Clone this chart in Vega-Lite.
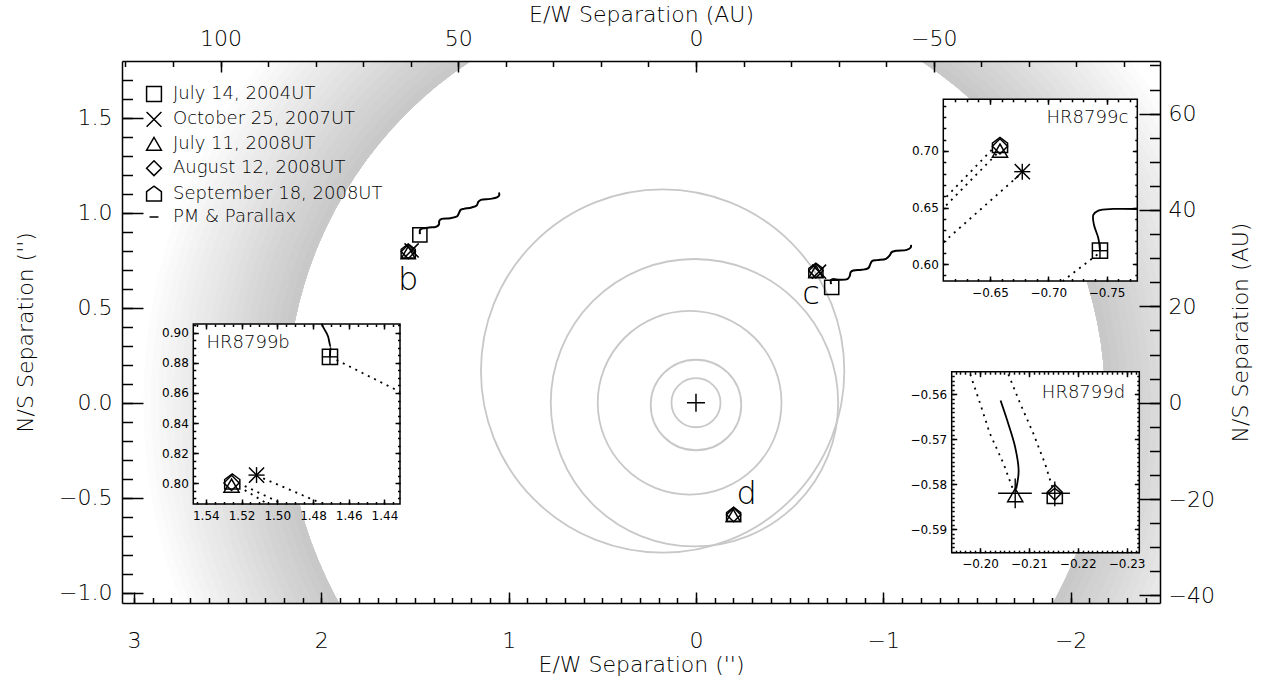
{
  "$schema": "https://vega.github.io/schema/vega-lite/v6.json",
  "width": 1038,
  "height": 542,
  "autosize": {"type": "none"},
  "padding": {"left": 122, "top": 61, "right": 105, "bottom": 78},
  "background": "white",
  "config": {
    "view": {"stroke": null},
    "axis": {
      "labelFont": "DejaVu Sans", "titleFont": "DejaVu Sans", "labelColor": "black", "titleColor": "black",
      "tickColor": "black", "domainColor": "black", "tickWidth": 1.5, "domainWidth": 1.5,
      "grid": false, "labelFlush": false, "labelOverlap": false, "titleFontWeight": 200, "labelFontWeight": 200,
      "labelFontSize": 22, "titleFontSize": 22, "zindex": 2
    },
    "text": {"font": "DejaVu Sans", "color": "black", "fontWeight": 200}
  },
  "datasets": {
    "rings": [
      {"cx": 0, "cy": 0, "rin": 2.17, "rout": 2.97}, {"cx": 0, "cy": 0, "rin": 2.17, "rout": 2.93},
      {"cx": 0, "cy": 0, "rin": 2.17, "rout": 2.89}, {"cx": 0, "cy": 0, "rin": 2.17, "rout": 2.85},
      {"cx": 0, "cy": 0, "rin": 2.17, "rout": 2.81}, {"cx": 0, "cy": 0, "rin": 2.17, "rout": 2.77},
      {"cx": 0, "cy": 0, "rin": 2.17, "rout": 2.73}, {"cx": 0, "cy": 0, "rin": 2.17, "rout": 2.69},
      {"cx": 0, "cy": 0, "rin": 2.17, "rout": 2.65}, {"cx": 0, "cy": 0, "rin": 2.17, "rout": 2.61},
      {"cx": 0, "cy": 0, "rin": 2.17, "rout": 2.57}, {"cx": 0, "cy": 0, "rin": 2.17, "rout": 2.53},
      {"cx": 0, "cy": 0, "rin": 2.17, "rout": 2.49}, {"cx": 0, "cy": 0, "rin": 2.17, "rout": 2.45},
      {"cx": 0, "cy": 0, "rin": 2.17, "rout": 2.41}, {"cx": 0, "cy": 0, "rin": 2.17, "rout": 2.37},
      {"cx": 0, "cy": 0, "rin": 2.17, "rout": 2.33}, {"cx": 0, "cy": 0, "rin": 2.17, "rout": 2.29},
      {"cx": 0, "cy": 0, "rin": 2.17, "rout": 2.25}, {"cx": 0, "cy": 0, "rin": 2.17, "rout": 2.21}
    ],
    "orbits": [
      {"cx": 0, "cy": 0, "r": 0.13},
      {"cx": 0, "cy": -0.012, "r": 0.24},
      {"cx": 0.034, "cy": 0, "r": 0.487},
      {"cx": 0.008, "cy": 0, "r": 0.762},
      {"cx": 0.178, "cy": 0.167, "r": 0.963}
    ],
    "waves": [
      {"id": "b", "k": 0, "x": 1.4736, "y": 0.8879}, {"id": "b", "k": 1, "x": 1.4736, "y": 0.9089},
      {"id": "b", "k": 2, "x": 1.4665, "y": 0.9158}, {"id": "b", "k": 3, "x": 1.4469, "y": 0.9195},
      {"id": "b", "k": 4, "x": 1.4238, "y": 0.9232}, {"id": "b", "k": 5, "x": 1.3881, "y": 0.9263},
      {"id": "b", "k": 6, "x": 1.3721, "y": 0.9389}, {"id": "b", "k": 7, "x": 1.3704, "y": 0.9579},
      {"id": "b", "k": 8, "x": 1.3579, "y": 0.9684}, {"id": "b", "k": 9, "x": 1.3134, "y": 0.9721},
      {"id": "b", "k": 10, "x": 1.2744, "y": 0.9826}, {"id": "b", "k": 11, "x": 1.2638, "y": 1.0021},
      {"id": "b", "k": 12, "x": 1.2563, "y": 1.0158}, {"id": "b", "k": 13, "x": 1.2387, "y": 1.0211},
      {"id": "b", "k": 14, "x": 1.1976, "y": 1.0284}, {"id": "b", "k": 15, "x": 1.1693, "y": 1.0405},
      {"id": "b", "k": 16, "x": 1.1622, "y": 1.0579}, {"id": "b", "k": 17, "x": 1.1479, "y": 1.0684},
      {"id": "b", "k": 18, "x": 1.0998, "y": 1.0737}, {"id": "b", "k": 19, "x": 1.0625, "y": 1.0811},
      {"id": "b", "k": 20, "x": 1.0501, "y": 1.0932}, {"id": "b", "k": 21, "x": 1.0518, "y": 1.1074},
      {"id": "c", "k": 0, "x": -0.7208, "y": 0.6247}, {"id": "c", "k": 1, "x": -0.7208, "y": 0.6458},
      {"id": "c", "k": 2, "x": -0.7298, "y": 0.6511}, {"id": "c", "k": 3, "x": -0.7688, "y": 0.6474},
      {"id": "c", "k": 4, "x": -0.8078, "y": 0.6511}, {"id": "c", "k": 5, "x": -0.8206, "y": 0.6668},
      {"id": "c", "k": 6, "x": -0.826, "y": 0.6879}, {"id": "c", "k": 7, "x": -0.8398, "y": 0.6968},
      {"id": "c", "k": 8, "x": -0.8847, "y": 0.7}, {"id": "c", "k": 9, "x": -0.9199, "y": 0.7089},
      {"id": "c", "k": 10, "x": -0.9306, "y": 0.73}, {"id": "c", "k": 11, "x": -0.9397, "y": 0.7458},
      {"id": "c", "k": 12, "x": -0.968, "y": 0.7511}, {"id": "c", "k": 13, "x": -1.0144, "y": 0.7579},
      {"id": "c", "k": 14, "x": -1.0342, "y": 0.7758}, {"id": "c", "k": 15, "x": -1.0449, "y": 0.7932},
      {"id": "c", "k": 16, "x": -1.0678, "y": 0.8}, {"id": "c", "k": 17, "x": -1.1249, "y": 0.8053},
      {"id": "c", "k": 18, "x": -1.1463, "y": 0.8179}, {"id": "c", "k": 19, "x": -1.1479, "y": 0.8316}
    ],
    "mainpts": [
      {"x": 1.474, "y": 0.884, "epoch": "July 14, 2004UT"},
      {"x": 1.518, "y": 0.802, "epoch": "October 25, 2007UT"},
      {"x": 1.536, "y": 0.791, "epoch": "July 11, 2008UT"},
      {"x": 1.536, "y": 0.796, "epoch": "August 12, 2008UT"},
      {"x": 1.536, "y": 0.799, "epoch": "September 18, 2008UT"},
      {"x": -0.7245, "y": 0.6074, "epoch": "July 14, 2004UT"},
      {"x": -0.657, "y": 0.69, "epoch": "October 25, 2007UT"},
      {"x": -0.64, "y": 0.69, "epoch": "July 11, 2008UT"},
      {"x": -0.64, "y": 0.695, "epoch": "August 12, 2008UT"},
      {"x": -0.64, "y": 0.698, "epoch": "September 18, 2008UT"},
      {"x": -0.199, "y": -0.594, "epoch": "July 11, 2008UT"},
      {"x": -0.201, "y": -0.59, "epoch": "August 12, 2008UT"},
      {"x": -0.201, "y": -0.588, "epoch": "September 18, 2008UT"}
    ],
    "planetlabels": [
      {"x": 1.536, "y": 0.593, "t": "b"},
      {"x": -0.614, "y": 0.5195, "t": "c"},
      {"x": -0.2707, "y": -0.533, "t": "d"}
    ],
    "b_box": [{"x": 1.547, "x2": 1.4313, "y": 0.7863, "y2": 0.9058}],
    "b_dots": [
      {"id": 1, "k": 0, "x": 1.4668, "y": 0.8819}, {"id": 1, "k": 1, "x": 1.4313, "y": 0.8608},
      {"id": 2, "k": 0, "x": 1.5079, "y": 0.8033}, {"id": 2, "k": 1, "x": 1.4752, "y": 0.7867},
      {"id": 3, "k": 0, "x": 1.5182, "y": 0.7982}, {"id": 3, "k": 1, "x": 1.4969, "y": 0.7863},
      {"id": 4, "k": 0, "x": 1.5182, "y": 0.7955}, {"id": 4, "k": 1, "x": 1.5053, "y": 0.7863}
    ],
    "b_curve": [
      {"k": 0, "x": 1.4705, "y": 0.884}, {"k": 1, "x": 1.4701, "y": 0.8907},
      {"k": 2, "x": 1.4715, "y": 0.8973}, {"k": 3, "x": 1.4739, "y": 0.9029},
      {"k": 4, "x": 1.4752, "y": 0.9058}
    ],
    "b_pts": [
      {"x": 1.4705, "y": 0.884, "epoch": "July 14, 2004UT"},
      {"x": 1.5116, "y": 0.8055, "epoch": "October 25, 2007UT"},
      {"x": 1.5256, "y": 0.7985, "epoch": "July 11, 2008UT"},
      {"x": 1.5256, "y": 0.8003, "epoch": "August 12, 2008UT"},
      {"x": 1.5252, "y": 0.8013, "epoch": "September 18, 2008UT"}
    ],
    "b_err": [
      {"x1": 1.475, "x2": 1.466, "y1": 0.884, "y2": 0.884},
      {"x1": 1.4705, "x2": 1.4705, "y1": 0.8787, "y2": 0.8893},
      {"x1": 1.5161, "x2": 1.5071, "y1": 0.8055, "y2": 0.8055},
      {"x1": 1.5116, "x2": 1.5116, "y1": 0.8002, "y2": 0.8108}
    ],
    "c_box": [{"x": -0.61, "x2": -0.7763, "y": 0.585, "y2": 0.7457}],
    "c_dots": [
      {"id": 1, "k": 0, "x": -0.7421, "y": 0.6084}, {"id": 1, "k": 1, "x": -0.7124, "y": 0.585},
      {"id": 2, "k": 0, "x": -0.6743, "y": 0.6779}, {"id": 2, "k": 1, "x": -0.61, "y": 0.6191},
      {"id": 3, "k": 0, "x": -0.6515, "y": 0.7009}, {"id": 3, "k": 1, "x": -0.61, "y": 0.6566},
      {"id": 4, "k": 0, "x": -0.6557, "y": 0.6973}, {"id": 4, "k": 1, "x": -0.61, "y": 0.6493}
    ],
    "c_curve": [
      {"k": 0, "x": -0.7443, "y": 0.6118}, {"k": 1, "x": -0.7429, "y": 0.6228},
      {"k": 2, "x": -0.7392, "y": 0.6345}, {"k": 3, "x": -0.7386, "y": 0.6434},
      {"k": 4, "x": -0.7429, "y": 0.6472}, {"k": 5, "x": -0.7558, "y": 0.6487},
      {"k": 6, "x": -0.7763, "y": 0.6487}
    ],
    "c_pts": [
      {"x": -0.7443, "y": 0.6118, "epoch": "July 14, 2004UT"},
      {"x": -0.6777, "y": 0.6817, "epoch": "October 25, 2007UT"},
      {"x": -0.6586, "y": 0.7003, "epoch": "July 11, 2008UT"},
      {"x": -0.6586, "y": 0.7041, "epoch": "August 12, 2008UT"},
      {"x": -0.6586, "y": 0.7053, "epoch": "September 18, 2008UT"}
    ],
    "c_err": [
      {"x1": -0.7374, "x2": -0.7512, "y1": 0.6118, "y2": 0.6118},
      {"x1": -0.7443, "x2": -0.7443, "y1": 0.6047, "y2": 0.6189},
      {"x1": -0.6708, "x2": -0.6846, "y1": 0.6817, "y2": 0.6817},
      {"x1": -0.6777, "x2": -0.6777, "y1": 0.6746, "y2": 0.6888}
    ],
    "d_box": [{"x": -0.1942, "x2": -0.2326, "y": -0.5952, "y2": -0.555}],
    "d_dots": [
      {"id": 1, "k": 0, "x": -0.198, "y": -0.5556}, {"id": 1, "k": 1, "x": -0.2, "y": -0.562},
      {"id": 1, "k": 2, "x": -0.202, "y": -0.5687}, {"id": 1, "k": 3, "x": -0.2048, "y": -0.5754},
      {"id": 1, "k": 4, "x": -0.2067, "y": -0.581},
      {"id": 2, "k": 0, "x": -0.2058, "y": -0.5556}, {"id": 2, "k": 1, "x": -0.2082, "y": -0.562},
      {"id": 2, "k": 2, "x": -0.2109, "y": -0.5687}, {"id": 2, "k": 3, "x": -0.2133, "y": -0.5754},
      {"id": 2, "k": 4, "x": -0.2149, "y": -0.581}
    ],
    "d_curve": [
      {"k": 0, "x": -0.2074, "y": -0.581}, {"k": 1, "x": -0.2079, "y": -0.577},
      {"k": 2, "x": -0.2072, "y": -0.5718}, {"k": 3, "x": -0.2058, "y": -0.5666},
      {"k": 4, "x": -0.2042, "y": -0.5614}
    ],
    "d_pts": [
      {"x": -0.2072, "y": -0.5824, "epoch": "July 11, 2008UT"},
      {"x": -0.2153, "y": -0.5818, "epoch": "August 12, 2008UT"},
      {"x": -0.2153, "y": -0.5826, "epoch": "September 18, 2008UT"}
    ],
    "d_err": [
      {"x1": -0.2037, "x2": -0.2106, "y1": -0.582, "y2": -0.582},
      {"x1": -0.2072, "x2": -0.2072, "y1": -0.5787, "y2": -0.5853},
      {"x1": -0.2126, "x2": -0.2184, "y1": -0.582, "y2": -0.582},
      {"x1": -0.2153, "x2": -0.2153, "y1": -0.5794, "y2": -0.5849}
    ]
  },
  "layer": [
    {
      "layer": [
        {
          "data": {"name": "rings"},
          "mark": {"type": "arc", "clip": true, "theta": 0, "theta2": 6.2832},
          "encoding": {
            "x": {"field": "cx", "type": "quantitative", "scale": {"domain": [3.064, -2.477], "nice": false, "zero": false},
              "axis": {"zindex": 2, "orient": "bottom", "values": [3, 2, 1, 0, -1, -2], "format": "d", "tickSize": -11, "labelPadding": 38,
                "title": "E/W Separation ('')", "titleY": 61, "titleBaseline": "middle"}},
            "y": {"field": "cy", "type": "quantitative", "scale": {"domain": [-1.055, 1.8], "nice": false, "zero": false},
              "axis": {"zindex": 2, "orient": "left", "values": [-1, -0.5, 0, 0.5, 1, 1.5], "format": ".1f", "tickSize": -21, "labelPadding": 31,
                "title": "N/S Separation ('')", "titleX": -97, "titleAngle": 270, "titleBaseline": "middle"}},
            "radius": {"field": "rout", "type": "quantitative", "scale": {"domain": [0, 3], "range": [0, 565.8], "zero": true, "nice": false}, "stack": null},
            "radius2": {"field": "rin"},
            "color": {"field": "rout", "type": "quantitative", "scale": {"domain": [2.21, 2.97], "range": ["#c8c8c8", "#ffffff"]}, "legend": null}
          }
        },
        {
          "data": {"name": "orbits"},
          "mark": {"type": "arc", "clip": true, "theta": 0, "theta2": 6.2832, "filled": false, "stroke": "#c8c8c8", "strokeWidth": 1.8},
          "encoding": {
            "x": {"field": "cx", "type": "quantitative", "scale": {"domain": [3.064, -2.477], "nice": false, "zero": false},
              "axis": {"zindex": 2, "orient": "bottom", "values": [-2.4, -2.3, -2.2, -2.1, -2, -1.9, -1.8, -1.7, -1.6, -1.5, -1.4, -1.3, -1.2, -1.1, -1, -0.9, -0.8, -0.7, -0.6, -0.5, -0.4, -0.3, -0.2, -0.1, 0, 0.1, 0.2, 0.3, 0.4, 0.5, 0.6, 0.7, 0.8, 0.9, 1, 1.1, 1.2, 1.3, 1.4, 1.5, 1.6, 1.7, 1.8, 1.9, 2, 2.1, 2.2, 2.3, 2.4, 2.5, 2.6, 2.7, 2.8, 2.9, 3],
                "tickSize": -5.5, "labels": false, "domain": false, "title": null}},
            "y": {"field": "cy", "type": "quantitative", "scale": {"domain": [-1.055, 1.8], "nice": false, "zero": false},
              "axis": {"zindex": 2, "orient": "left", "values": [-1, -0.9, -0.8, -0.7, -0.6, -0.5, -0.4, -0.3, -0.2, -0.1, 0, 0.1, 0.2, 0.3, 0.4, 0.5, 0.6, 0.7, 0.8, 0.9, 1, 1.1, 1.2, 1.3, 1.4, 1.5, 1.6, 1.7],
                "tickSize": -10.5, "labels": false, "domain": false, "title": null}},
            "radius": {"field": "r", "type": "quantitative", "scale": {"domain": [0, 3], "range": [0, 565.8], "zero": true, "nice": false}, "stack": null}
          }
        },
        {
          "data": {"name": "waves"},
          "mark": {"type": "line", "color": "black", "strokeWidth": 2, "interpolate": "catmull-rom"},
          "encoding": {
            "x": {"field": "x", "type": "quantitative", "scale": {"domain": [3.064, -2.477], "nice": false, "zero": false},
              "axis": {"zindex": 2, "orient": "top", "values": [2.538071, 1.269036, 0, -1.269036], "labelExpr": "format(datum.value * 39.4, 'd')",
                "tickSize": -11, "labelPadding": 22, "title": "E/W Separation (AU)", "titleY": -47, "titleBaseline": "middle"}},
            "y": {"field": "y", "type": "quantitative", "scale": {"domain": [-1.055, 1.8], "nice": false, "zero": false},
              "axis": {"zindex": 2, "orient": "right", "values": [1.522843, 1.015228, 0.507614, 0, -0.507614, -1.015228], "labelExpr": "format(datum.value * 39.4, 'd')",
                "tickSize": -21, "labelPadding": 29, "title": "N/S Separation (AU)", "titleX": 80, "titleAngle": 270, "titleBaseline": "middle"}},
            "detail": {"field": "id"},
            "order": {"field": "k", "type": "quantitative"}
          }
        },
        {
          "data": {"name": "mainpts"},
          "mark": {"type": "point", "filled": false, "color": "black", "strokeWidth": 1.5, "size": 200, "opacity": 1},
          "encoding": {
            "x": {"field": "x", "type": "quantitative", "scale": {"domain": [3.064, -2.477], "nice": false, "zero": false},
              "axis": {"zindex": 2, "orient": "top", "values": [-2.284264, -2.030457, -1.77665, -1.522843, -1.269036, -1.015228, -0.761421, -0.507614, -0.253807, 0, 0.253807, 0.507614, 0.761421, 1.015228, 1.269036, 1.522843, 1.77665, 2.030457, 2.284264, 2.538071, 2.791878, 3.045685],
                "tickSize": -5.5, "labels": false, "domain": false, "title": null}},
            "y": {"field": "y", "type": "quantitative", "scale": {"domain": [-1.055, 1.8], "nice": false, "zero": false},
              "axis": {"zindex": 2, "orient": "right", "values": [-1.015228, -0.888325, -0.761421, -0.634518, -0.507614, -0.380711, -0.253807, -0.126904, 0, 0.126904, 0.253807, 0.380711, 0.507614, 0.634518, 0.761421, 0.888325, 1.015228, 1.142132, 1.269036, 1.395939, 1.522843, 1.649746, 1.77665],
                "tickSize": -10.5, "labels": false, "domain": false, "title": null}},
            "shape": {"field": "epoch", "type": "nominal",
              "scale": {"domain": ["July 14, 2004UT", "October 25, 2007UT", "July 11, 2008UT", "August 12, 2008UT", "September 18, 2008UT", "PM & Parallax"],
                "range": ["square", "M-1,-1L1,1M-1,1L1,-1", "triangle-up", "diamond", "M-1,1L1,1L1,-0.25L0,-1L-1,-0.25Z", "M-0.6,0L0.6,0"]},
              "legend": {"title": null, "orient": "none", "legendX": 23, "legendY": 24, "padding": 0, "zindex": 2,
                "labelFont": "DejaVu Sans", "labelFontSize": 18, "labelFontWeight": 200, "labelColor": "black", "labelLimit": 400, "labelOffset": 10,
                "symbolSize": 220, "symbolStrokeWidth": 1.5, "symbolStrokeColor": "black", "symbolFillColor": "transparent",
                "rowPadding": 3.4}}
          }
        },
        {
          "data": {"values": [{"x": 0, "y": 0}]},
          "mark": {"type": "point", "shape": "M-1,0L1,0M0,-1L0,1", "size": 324, "filled": false, "color": "black", "strokeWidth": 1.5, "opacity": 1},
          "encoding": {
            "x": {"field": "x", "type": "quantitative", "scale": {"domain": [3.064, -2.477], "nice": false, "zero": false}, "axis": null},
            "y": {"field": "y", "type": "quantitative", "scale": {"domain": [-1.055, 1.8], "nice": false, "zero": false}, "axis": null}
          }
        },
        {
          "data": {"name": "planetlabels"},
          "mark": {"type": "text", "fontSize": 32, "align": "center", "baseline": "alphabetic", "color": "black"},
          "encoding": {
            "x": {"field": "x", "type": "quantitative", "scale": {"domain": [3.064, -2.477], "nice": false, "zero": false}, "axis": null},
            "y": {"field": "y", "type": "quantitative", "scale": {"domain": [-1.055, 1.8], "nice": false, "zero": false}, "axis": null},
            "text": {"field": "t"}
          }
        }
      ],
      "resolve": {"axis": {"x": "independent", "y": "independent"}}
    },
    {
      "layer": [
        {
          "data": {"name": "b_box"},
          "mark": {"type": "rect", "fill": "white", "stroke": "black", "strokeWidth": 1.5},
          "encoding": {
            "x": {"field": "x", "type": "quantitative", "scale": {"domain": [1.547, 1.4313], "range": [71.3, 278], "nice": false, "zero": false},
              "axis": {"zindex": 2, "orient": "bottom", "offset": -99, "values": [1.54, 1.52, 1.5, 1.48, 1.46, 1.44], "format": ".2f", "tickSize": -5, "labelPadding": 11, "labelFontSize": 12, "labelFontWeight": "normal", "domain": false, "title": null}},
            "x2": {"field": "x2"},
            "y": {"field": "y", "type": "quantitative", "scale": {"domain": [0.7863, 0.9058], "range": [443, 263], "nice": false, "zero": false},
              "axis": {"zindex": 2, "orient": "left", "offset": -71.3, "values": [0.8, 0.82, 0.84, 0.86, 0.88, 0.9], "format": ".2f", "tickSize": -5, "labelPadding": 10, "labelFontSize": 12, "labelFontWeight": "normal", "domain": false, "title": null}},
            "y2": {"field": "y2"}
          }
        },
        {
          "data": {"name": "b_dots"},
          "mark": {"type": "line", "color": "black", "strokeWidth": 1.8, "strokeDash": [2, 5]},
          "encoding": {
            "x": {"field": "x", "type": "quantitative", "scale": {"domain": [1.547, 1.4313], "range": [71.3, 278], "nice": false, "zero": false},
              "axis": {"zindex": 2, "orient": "bottom", "offset": -99, "values": [1.435, 1.44, 1.445, 1.45, 1.455, 1.46, 1.465, 1.47, 1.475, 1.48, 1.485, 1.49, 1.495, 1.5, 1.505, 1.51, 1.515, 1.52, 1.525, 1.53, 1.535, 1.54, 1.545], "tickSize": -2.5, "labels": false, "domain": false, "title": null}},
            "y": {"field": "y", "type": "quantitative", "scale": {"domain": [0.7863, 0.9058], "range": [443, 263], "nice": false, "zero": false},
              "axis": {"zindex": 2, "orient": "left", "offset": -71.3, "values": [0.79, 0.795, 0.8, 0.805, 0.81, 0.815, 0.82, 0.825, 0.83, 0.835, 0.84, 0.845, 0.85, 0.855, 0.86, 0.865, 0.87, 0.875, 0.88, 0.885, 0.89, 0.895, 0.9, 0.905], "tickSize": -2.5, "labels": false, "domain": false, "title": null}},
            "detail": {"field": "id"},
            "order": {"field": "k", "type": "quantitative"}
          }
        },
        {
          "data": {"name": "b_curve"},
          "mark": {"type": "line", "color": "black", "strokeWidth": 1.8, "interpolate": "monotone"},
          "encoding": {
            "x": {"field": "x", "type": "quantitative", "scale": {"domain": [1.547, 1.4313], "range": [71.3, 278], "nice": false, "zero": false},
              "axis": {"zindex": 2, "orient": "top", "offset": -263, "values": [1.54, 1.52, 1.5, 1.48, 1.46, 1.44], "tickSize": -5, "labels": false, "domain": false, "title": null}},
            "y": {"field": "y", "type": "quantitative", "scale": {"domain": [0.7863, 0.9058], "range": [443, 263], "nice": false, "zero": false},
              "axis": {"zindex": 2, "orient": "right", "offset": -760, "values": [0.8, 0.82, 0.84, 0.86, 0.88, 0.9], "tickSize": -5, "labels": false, "domain": false, "title": null}},
            "order": {"field": "k", "type": "quantitative"}
          }
        },
        {
          "data": {"name": "b_pts"},
          "mark": {"type": "point", "filled": false, "color": "black", "strokeWidth": 1.5, "size": 230, "opacity": 1},
          "encoding": {
            "x": {"field": "x", "type": "quantitative", "scale": {"domain": [1.547, 1.4313], "range": [71.3, 278], "nice": false, "zero": false},
              "axis": {"zindex": 2, "orient": "top", "offset": -263, "values": [1.435, 1.44, 1.445, 1.45, 1.455, 1.46, 1.465, 1.47, 1.475, 1.48, 1.485, 1.49, 1.495, 1.5, 1.505, 1.51, 1.515, 1.52, 1.525, 1.53, 1.535, 1.54, 1.545], "tickSize": -2.5, "labels": false, "domain": false, "title": null}},
            "y": {"field": "y", "type": "quantitative", "scale": {"domain": [0.7863, 0.9058], "range": [443, 263], "nice": false, "zero": false},
              "axis": {"zindex": 2, "orient": "right", "offset": -760, "values": [0.79, 0.795, 0.8, 0.805, 0.81, 0.815, 0.82, 0.825, 0.83, 0.835, 0.84, 0.845, 0.85, 0.855, 0.86, 0.865, 0.87, 0.875, 0.88, 0.885, 0.89, 0.895, 0.9, 0.905], "tickSize": -2.5, "labels": false, "domain": false, "title": null}},
            "shape": {"field": "epoch", "type": "nominal",
              "scale": {"domain": ["July 14, 2004UT", "October 25, 2007UT", "July 11, 2008UT", "August 12, 2008UT", "September 18, 2008UT", "PM & Parallax"],
                "range": ["square", "M-1,-1L1,1M-1,1L1,-1", "triangle-up", "diamond", "M-1,1L1,1L1,-0.25L0,-1L-1,-0.25Z", "M-0.6,0L0.6,0"]}}
          }
        },
        {
          "data": {"name": "b_err"},
          "mark": {"type": "rule", "color": "black", "strokeWidth": 1.4},
          "encoding": {
            "x": {"field": "x1", "type": "quantitative", "scale": {"domain": [1.547, 1.4313], "range": [71.3, 278], "nice": false, "zero": false}, "axis": null},
            "x2": {"field": "x2"},
            "y": {"field": "y1", "type": "quantitative", "scale": {"domain": [0.7863, 0.9058], "range": [443, 263], "nice": false, "zero": false}, "axis": null},
            "y2": {"field": "y2"}
          }
        },
        {
          "data": {"values": [{"x": 1.5396, "y": 0.893, "t": "HR8799b"}]},
          "mark": {"type": "text", "align": "left", "baseline": "middle", "fontSize": 18, "color": "black"},
          "encoding": {
            "x": {"field": "x", "type": "quantitative", "scale": {"domain": [1.547, 1.4313], "range": [71.3, 278], "nice": false, "zero": false}, "axis": null},
            "y": {"field": "y", "type": "quantitative", "scale": {"domain": [0.7863, 0.9058], "range": [443, 263], "nice": false, "zero": false}, "axis": null},
            "text": {"field": "t"}
          }
        }
      ],
      "resolve": {"axis": {"x": "independent", "y": "independent"}}
    },
    {
      "layer": [
        {
          "data": {"name": "c_box"},
          "mark": {"type": "rect", "fill": "white", "stroke": "black", "strokeWidth": 1.5},
          "encoding": {
            "x": {"field": "x", "type": "quantitative", "scale": {"domain": [-0.61, -0.7763], "range": [821.3, 1015.3], "nice": false, "zero": false},
              "axis": {"zindex": 2, "orient": "bottom", "offset": -322, "values": [-0.65, -0.7, -0.75], "format": ".2f", "tickSize": -5, "labelPadding": 11, "labelFontSize": 12, "labelFontWeight": "normal", "domain": false, "title": null}},
            "x2": {"field": "x2"},
            "y": {"field": "y", "type": "quantitative", "scale": {"domain": [0.585, 0.7457], "range": [220, 38.3], "nice": false, "zero": false},
              "axis": {"zindex": 2, "orient": "left", "offset": -821.3, "values": [0.6, 0.65, 0.7], "format": ".2f", "tickSize": -5, "labelPadding": 10, "labelFontSize": 12, "labelFontWeight": "normal", "domain": false, "title": null}},
            "y2": {"field": "y2"}
          }
        },
        {
          "data": {"name": "c_dots"},
          "mark": {"type": "line", "color": "black", "strokeWidth": 1.8, "strokeDash": [2, 5]},
          "encoding": {
            "x": {"field": "x", "type": "quantitative", "scale": {"domain": [-0.61, -0.7763], "range": [821.3, 1015.3], "nice": false, "zero": false},
              "axis": {"zindex": 2, "orient": "bottom", "offset": -322, "values": [-0.62, -0.63, -0.64, -0.65, -0.66, -0.67, -0.68, -0.69, -0.7, -0.71, -0.72, -0.73, -0.74, -0.75, -0.76, -0.77], "tickSize": -2.5, "labels": false, "domain": false, "title": null}},
            "y": {"field": "y", "type": "quantitative", "scale": {"domain": [0.585, 0.7457], "range": [220, 38.3], "nice": false, "zero": false},
              "axis": {"zindex": 2, "orient": "left", "offset": -821.3, "values": [0.59, 0.6, 0.61, 0.62, 0.63, 0.64, 0.65, 0.66, 0.67, 0.68, 0.69, 0.7, 0.71, 0.72, 0.73, 0.74], "tickSize": -2.5, "labels": false, "domain": false, "title": null}},
            "detail": {"field": "id"},
            "order": {"field": "k", "type": "quantitative"}
          }
        },
        {
          "data": {"name": "c_curve"},
          "mark": {"type": "line", "color": "black", "strokeWidth": 1.8, "interpolate": "catmull-rom"},
          "encoding": {
            "x": {"field": "x", "type": "quantitative", "scale": {"domain": [-0.61, -0.7763], "range": [821.3, 1015.3], "nice": false, "zero": false},
              "axis": {"zindex": 2, "orient": "top", "offset": -38.3, "values": [-0.65, -0.7, -0.75], "tickSize": -5, "labels": false, "domain": false, "title": null}},
            "y": {"field": "y", "type": "quantitative", "scale": {"domain": [0.585, 0.7457], "range": [220, 38.3], "nice": false, "zero": false},
              "axis": {"zindex": 2, "orient": "right", "offset": -22.7, "values": [0.6, 0.65, 0.7], "tickSize": -5, "labels": false, "domain": false, "title": null}},
            "order": {"field": "k", "type": "quantitative"}
          }
        },
        {
          "data": {"name": "c_pts"},
          "mark": {"type": "point", "filled": false, "color": "black", "strokeWidth": 1.5, "size": 230, "opacity": 1},
          "encoding": {
            "x": {"field": "x", "type": "quantitative", "scale": {"domain": [-0.61, -0.7763], "range": [821.3, 1015.3], "nice": false, "zero": false},
              "axis": {"zindex": 2, "orient": "top", "offset": -38.3, "values": [-0.62, -0.63, -0.64, -0.65, -0.66, -0.67, -0.68, -0.69, -0.7, -0.71, -0.72, -0.73, -0.74, -0.75, -0.76, -0.77], "tickSize": -2.5, "labels": false, "domain": false, "title": null}},
            "y": {"field": "y", "type": "quantitative", "scale": {"domain": [0.585, 0.7457], "range": [220, 38.3], "nice": false, "zero": false},
              "axis": {"zindex": 2, "orient": "right", "offset": -22.7, "values": [0.59, 0.6, 0.61, 0.62, 0.63, 0.64, 0.65, 0.66, 0.67, 0.68, 0.69, 0.7, 0.71, 0.72, 0.73, 0.74], "tickSize": -2.5, "labels": false, "domain": false, "title": null}},
            "shape": {"field": "epoch", "type": "nominal",
              "scale": {"domain": ["July 14, 2004UT", "October 25, 2007UT", "July 11, 2008UT", "August 12, 2008UT", "September 18, 2008UT", "PM & Parallax"],
                "range": ["square", "M-1,-1L1,1M-1,1L1,-1", "triangle-up", "diamond", "M-1,1L1,1L1,-0.25L0,-1L-1,-0.25Z", "M-0.6,0L0.6,0"]}}
          }
        },
        {
          "data": {"name": "c_err"},
          "mark": {"type": "rule", "color": "black", "strokeWidth": 1.4},
          "encoding": {
            "x": {"field": "x1", "type": "quantitative", "scale": {"domain": [-0.61, -0.7763], "range": [821.3, 1015.3], "nice": false, "zero": false}, "axis": null},
            "x2": {"field": "x2"},
            "y": {"field": "y1", "type": "quantitative", "scale": {"domain": [0.585, 0.7457], "range": [220, 38.3], "nice": false, "zero": false}, "axis": null},
            "y2": {"field": "y2"}
          }
        },
        {
          "data": {"values": [{"x": -0.7686, "y": 0.7289, "t": "HR8799c"}]},
          "mark": {"type": "text", "align": "right", "baseline": "middle", "fontSize": 18, "color": "black"},
          "encoding": {
            "x": {"field": "x", "type": "quantitative", "scale": {"domain": [-0.61, -0.7763], "range": [821.3, 1015.3], "nice": false, "zero": false}, "axis": null},
            "y": {"field": "y", "type": "quantitative", "scale": {"domain": [0.585, 0.7457], "range": [220, 38.3], "nice": false, "zero": false}, "axis": null},
            "text": {"field": "t"}
          }
        }
      ],
      "resolve": {"axis": {"x": "independent", "y": "independent"}}
    },
    {
      "layer": [
        {
          "data": {"name": "d_box"},
          "mark": {"type": "rect", "fill": "white", "stroke": "black", "strokeWidth": 1.5},
          "encoding": {
            "x": {"field": "x", "type": "quantitative", "scale": {"domain": [-0.1942, -0.2326], "range": [829.7, 1017.3], "nice": false, "zero": false},
              "axis": {"zindex": 2, "orient": "bottom", "offset": -50.3, "values": [-0.2, -0.21, -0.22, -0.23], "format": ".2f", "tickSize": -5, "labelPadding": 11, "labelFontSize": 12, "labelFontWeight": "normal", "domain": false, "title": null}},
            "x2": {"field": "x2"},
            "y": {"field": "y", "type": "quantitative", "scale": {"domain": [-0.5952, -0.555], "range": [491.7, 310.7], "nice": false, "zero": false},
              "axis": {"zindex": 2, "orient": "left", "offset": -829.7, "values": [-0.56, -0.57, -0.58, -0.59], "format": ".2f", "tickSize": -5, "labelPadding": 10, "labelFontSize": 12, "labelFontWeight": "normal", "domain": false, "title": null}},
            "y2": {"field": "y2"}
          }
        },
        {
          "data": {"name": "d_dots"},
          "mark": {"type": "line", "color": "black", "strokeWidth": 1.8, "strokeDash": [2, 5]},
          "encoding": {
            "x": {"field": "x", "type": "quantitative", "scale": {"domain": [-0.1942, -0.2326], "range": [829.7, 1017.3], "nice": false, "zero": false},
              "axis": {"zindex": 2, "orient": "bottom", "offset": -50.3, "values": [-0.195, -0.196, -0.197, -0.198, -0.199, -0.2, -0.201, -0.202, -0.203, -0.204, -0.205, -0.206, -0.207, -0.208, -0.209, -0.21, -0.211, -0.212, -0.213, -0.214, -0.215, -0.216, -0.217, -0.218, -0.219, -0.22, -0.221, -0.222, -0.223, -0.224, -0.225, -0.226, -0.227, -0.228, -0.229, -0.23, -0.231, -0.232], "tickSize": -2.5, "labels": false, "domain": false, "title": null}},
            "y": {"field": "y", "type": "quantitative", "scale": {"domain": [-0.5952, -0.555], "range": [491.7, 310.7], "nice": false, "zero": false},
              "axis": {"zindex": 2, "orient": "left", "offset": -829.7, "values": [-0.556, -0.557, -0.558, -0.559, -0.56, -0.561, -0.562, -0.563, -0.564, -0.565, -0.566, -0.567, -0.568, -0.569, -0.57, -0.571, -0.572, -0.573, -0.574, -0.575, -0.576, -0.577, -0.578, -0.579, -0.58, -0.581, -0.582, -0.583, -0.584, -0.585, -0.586, -0.587, -0.588, -0.589, -0.59, -0.591, -0.592, -0.593, -0.594, -0.595], "tickSize": -2.5, "labels": false, "domain": false, "title": null}},
            "detail": {"field": "id"},
            "order": {"field": "k", "type": "quantitative"}
          }
        },
        {
          "data": {"name": "d_curve"},
          "mark": {"type": "line", "color": "black", "strokeWidth": 1.8, "interpolate": "catmull-rom"},
          "encoding": {
            "x": {"field": "x", "type": "quantitative", "scale": {"domain": [-0.1942, -0.2326], "range": [829.7, 1017.3], "nice": false, "zero": false},
              "axis": {"zindex": 2, "orient": "top", "offset": -310.7, "values": [-0.2, -0.21, -0.22, -0.23], "tickSize": -5, "labels": false, "domain": false, "title": null}},
            "y": {"field": "y", "type": "quantitative", "scale": {"domain": [-0.5952, -0.555], "range": [491.7, 310.7], "nice": false, "zero": false},
              "axis": {"zindex": 2, "orient": "right", "offset": -20.7, "values": [-0.56, -0.57, -0.58, -0.59], "tickSize": -5, "labels": false, "domain": false, "title": null}},
            "order": {"field": "k", "type": "quantitative"}
          }
        },
        {
          "data": {"name": "d_pts"},
          "mark": {"type": "point", "filled": false, "color": "black", "strokeWidth": 1.5, "size": 230, "opacity": 1},
          "encoding": {
            "x": {"field": "x", "type": "quantitative", "scale": {"domain": [-0.1942, -0.2326], "range": [829.7, 1017.3], "nice": false, "zero": false},
              "axis": {"zindex": 2, "orient": "top", "offset": -310.7, "values": [-0.195, -0.196, -0.197, -0.198, -0.199, -0.2, -0.201, -0.202, -0.203, -0.204, -0.205, -0.206, -0.207, -0.208, -0.209, -0.21, -0.211, -0.212, -0.213, -0.214, -0.215, -0.216, -0.217, -0.218, -0.219, -0.22, -0.221, -0.222, -0.223, -0.224, -0.225, -0.226, -0.227, -0.228, -0.229, -0.23, -0.231, -0.232], "tickSize": -2.5, "labels": false, "domain": false, "title": null}},
            "y": {"field": "y", "type": "quantitative", "scale": {"domain": [-0.5952, -0.555], "range": [491.7, 310.7], "nice": false, "zero": false},
              "axis": {"zindex": 2, "orient": "right", "offset": -20.7, "values": [-0.556, -0.557, -0.558, -0.559, -0.56, -0.561, -0.562, -0.563, -0.564, -0.565, -0.566, -0.567, -0.568, -0.569, -0.57, -0.571, -0.572, -0.573, -0.574, -0.575, -0.576, -0.577, -0.578, -0.579, -0.58, -0.581, -0.582, -0.583, -0.584, -0.585, -0.586, -0.587, -0.588, -0.589, -0.59, -0.591, -0.592, -0.593, -0.594, -0.595], "tickSize": -2.5, "labels": false, "domain": false, "title": null}},
            "shape": {"field": "epoch", "type": "nominal",
              "scale": {"domain": ["July 14, 2004UT", "October 25, 2007UT", "July 11, 2008UT", "August 12, 2008UT", "September 18, 2008UT", "PM & Parallax"],
                "range": ["square", "M-1,-1L1,1M-1,1L1,-1", "triangle-up", "diamond", "M-1,1L1,1L1,-0.25L0,-1L-1,-0.25Z", "M-0.6,0L0.6,0"]}}
          }
        },
        {
          "data": {"name": "d_err"},
          "mark": {"type": "rule", "color": "black", "strokeWidth": 1.4},
          "encoding": {
            "x": {"field": "x1", "type": "quantitative", "scale": {"domain": [-0.1942, -0.2326], "range": [829.7, 1017.3], "nice": false, "zero": false}, "axis": null},
            "x2": {"field": "x2"},
            "y": {"field": "y1", "type": "quantitative", "scale": {"domain": [-0.5952, -0.555], "range": [491.7, 310.7], "nice": false, "zero": false}, "axis": null},
            "y2": {"field": "y2"}
          }
        },
        {
          "data": {"values": [{"x": -0.2297, "y": -0.5598, "t": "HR8799d"}]},
          "mark": {"type": "text", "align": "right", "baseline": "middle", "fontSize": 18, "color": "black"},
          "encoding": {
            "x": {"field": "x", "type": "quantitative", "scale": {"domain": [-0.1942, -0.2326], "range": [829.7, 1017.3], "nice": false, "zero": false}, "axis": null},
            "y": {"field": "y", "type": "quantitative", "scale": {"domain": [-0.5952, -0.555], "range": [491.7, 310.7], "nice": false, "zero": false}, "axis": null},
            "text": {"field": "t"}
          }
        }
      ],
      "resolve": {"axis": {"x": "independent", "y": "independent"}}
    }
  ],
  "resolve": {"scale": {"x": "independent", "y": "independent"}}
}
